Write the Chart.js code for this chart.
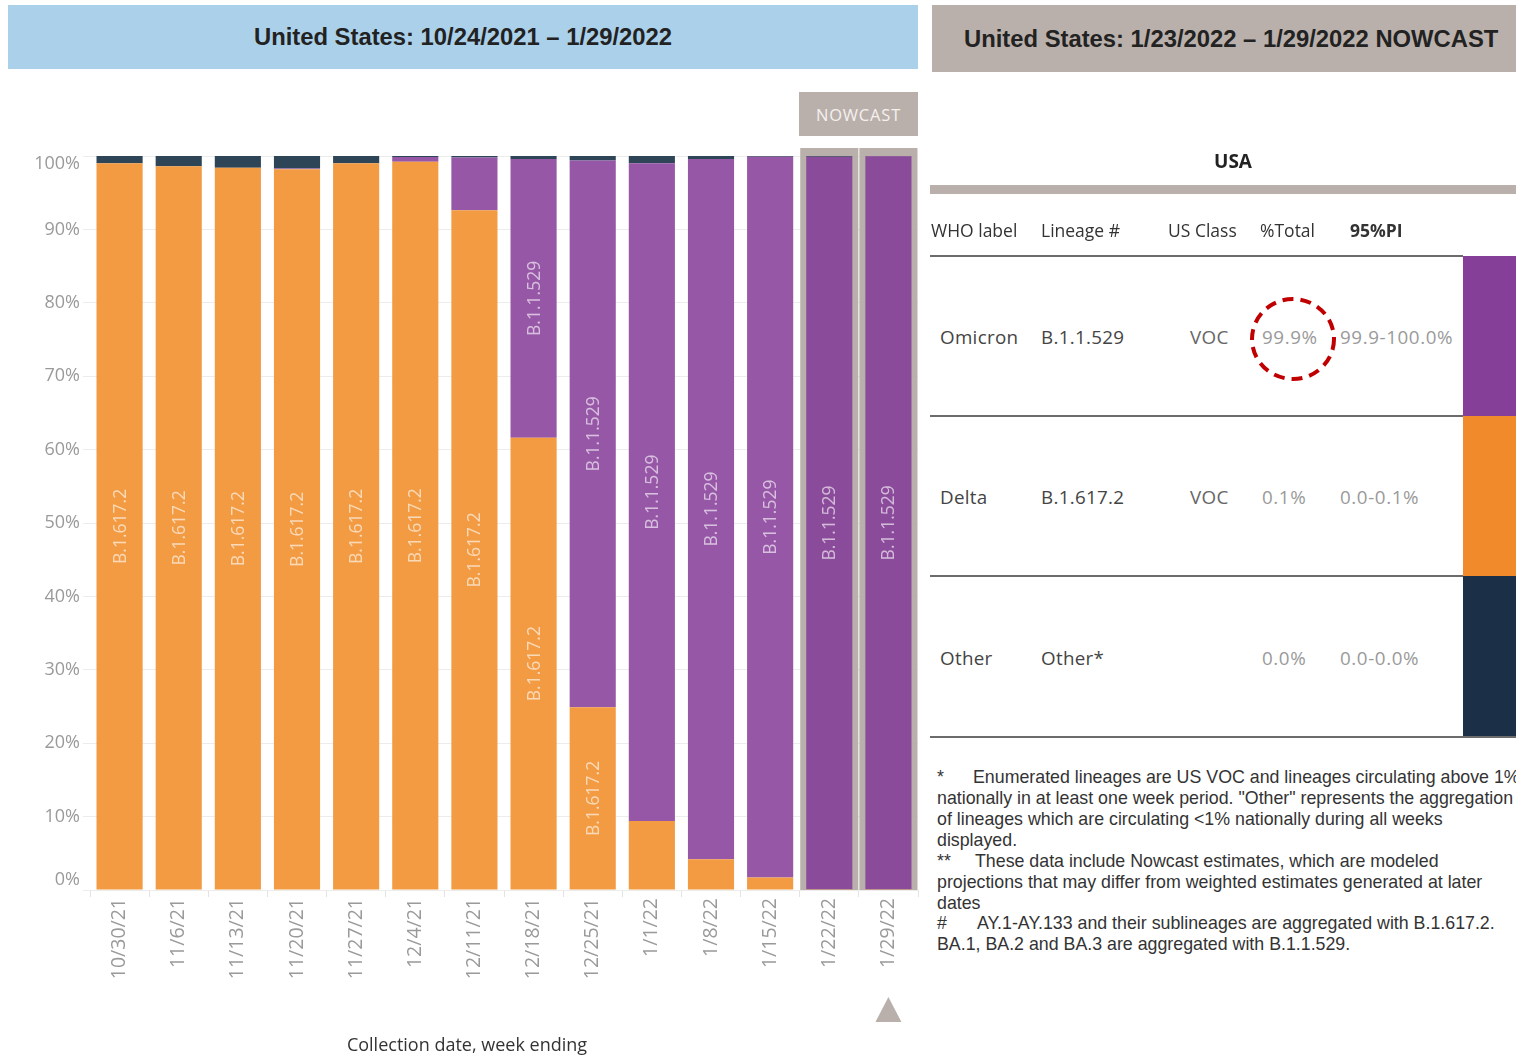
<!DOCTYPE html>
<html>
<head>
<meta charset="utf-8">
<script src="https://cdn.jsdelivr.net/npm/chart.js@4/dist/chart.umd.min.js"></script>
<style>
  html, body { margin: 0; padding: 0; background: #fff; }
  body { width: 1516px; height: 1055px; position: relative; overflow: hidden; font-family: "Open Sans", sans-serif; }
  .abs { position: absolute; }
  #chartWrap { position: absolute; left: 0; top: 0; width: 935px; height: 1055px; }
  .hdr { position: absolute; font-family: "Liberation Sans", Arial, sans-serif; font-weight: bold; font-size: 23.8px; color: #222; display: flex; align-items: center; }
  .tbl { position: absolute; font-family: "Open Sans", sans-serif; font-size: 17.5px; color: #444; white-space: nowrap; line-height: 24px; }
  .row { font-size: 18.8px; letter-spacing: 0.3px; }
  .val { color: #9a9a9a; letter-spacing: 0.6px; }
  .hline { position: absolute; height: 2px; background: #6b6b6b; }
  .fn { position: absolute; font-family: "Liberation Sans", Arial, sans-serif; font-size: 17.8px; color: #333; white-space: pre; line-height: 21px; }
</style>
</head>
<body>
<div id="chartWrap"><canvas id="c" width="935" height="1055"></canvas></div>

<div class="hdr" style="left:8px;top:5px;width:910px;height:64px;background:#abd0ea;justify-content:center;">United States: 10/24/2021 – 1/29/2022</div>
<div class="hdr" style="left:932px;top:5px;width:584px;height:67px;background:#bab0ab;padding-left:32px;box-sizing:border-box;">United States: 1/23/2022 – 1/29/2022 NOWCAST</div>

<div class="abs" style="left:799px;top:92px;width:119px;height:44px;background:#bab0ab;color:#f4f1ef;font-family:'Open Sans',sans-serif;font-size:16.5px;letter-spacing:0.8px;display:flex;align-items:center;justify-content:center;">NOWCAST</div>

<div class="abs" style="left:267px;top:1032px;width:400px;text-align:center;font-family:'Open Sans',sans-serif;font-size:18px;color:#333;">Collection date, week ending</div>

<div id="rightPanel"></div>

<script>
// ---------------- DATA ----------------
const categories = ['10/30/21','11/6/21','11/13/21','11/20/21','11/27/21','12/4/21','12/11/21','12/18/21','12/25/21','1/1/22','1/8/22','1/15/22','1/22/22','1/29/22'];
const deltaValues   = [99.0, 98.6, 98.4, 98.2, 99.0, 99.2, 92.6, 61.6, 24.9, 9.4, 4.2, 1.7, 0.1, 0.1];
const omicronValues = [0.0, 0.0, 0.0, 0.1, 0.0, 0.65, 7.2, 38.0, 74.5, 89.6, 95.4, 98.2, 99.8, 99.85];
const otherValues   = [1.0, 1.4, 1.6, 1.7, 1.0, 0.15, 0.2, 0.4, 0.6, 1.0, 0.4, 0.1, 0.1, 0.05];
const seriesNames   = ['B.1.617.2', 'B.1.1.529', 'Other'];
const nowcastCount  = 2;
const yTicks        = [0, 10, 20, 30, 40, 50, 60, 70, 80, 90, 100];

const tableHeader = ['WHO label', 'Lineage #', 'US Class', '%Total', '95%PI'];
const whoLabels   = ['Omicron', 'Delta', 'Other'];
const lineages    = ['B.1.1.529', 'B.1.617.2', 'Other*'];
const usClasses   = ['VOC', 'VOC', ''];
const pctTotal    = ['99.9%', '0.1%', '0.0%'];
const predInt     = ['99.9-100.0%', '0.0-0.1%', '0.0-0.0%'];

// ---------------- STYLES ----------------
const ORANGE = '#f29b43';
const PURPLE = '#9657a7';
const PURPLE_NOW = '#8b4b9b';
const NAVY = '#2e4558';
const FRAME = '#bab0ab';

const n = categories.length;
const isNow = i => i >= n - nowcastCount;

const framePlugin = {
  id: 'nowFrames',
  beforeDatasetsDraw(chart) {
    const ctx = chart.ctx, area = chart.chartArea;
    const meta = chart.getDatasetMeta(0);
    ctx.save();
    ctx.fillStyle = FRAME;
    meta.data.forEach((bar, i) => {
      if (!isNow(i)) return;
      const half = bar.width / 2 + 6;
      ctx.fillRect(bar.x - half, area.top - 8, half * 2, area.bottom - area.top + 8);
    });
    ctx.restore();
  },
  afterDatasetsDraw(chart) {
    const ctx = chart.ctx, area = chart.chartArea;
    ctx.save();
    ctx.font = '17.5px "Open Sans", sans-serif';
    ctx.fillStyle = 'rgba(255,255,255,0.62)';
    ctx.textAlign = 'center';
    ctx.textBaseline = 'middle';
    [0, 1].forEach(di => {
      const meta = chart.getDatasetMeta(di);
      const vals = chart.data.datasets[di].data;
      meta.data.forEach((bar, i) => {
        if (vals[i] < 15) return;
        const cy = (bar.y + bar.base) / 2;
        ctx.save();
        ctx.translate(bar.x + 1, cy);
        ctx.rotate(-Math.PI / 2);
        ctx.fillText(seriesNames[di], 0, 0);
        ctx.restore();
      });
    });
    // y tick labels, end labels kept inside the plot like the original
    const ys = chart.scales.y;
    ctx.font = '18px "Open Sans", sans-serif';
    ctx.fillStyle = '#9a9a9a';
    ctx.textAlign = 'right';
    yTicks.forEach(v => {
      let py = ys.getPixelForValue(v);
      py = Math.min(Math.max(py, area.top + 8), area.bottom - 10);
      ctx.fillText(v + '%', area.left - 10, py);
    });
    // triangle under last (nowcast) bar
    const last = chart.getDatasetMeta(0).data[n - 1];
    ctx.fillStyle = FRAME;
    ctx.beginPath();
    ctx.moveTo(last.x, 997);
    ctx.lineTo(last.x + 13, 1022);
    ctx.lineTo(last.x - 13, 1022);
    ctx.closePath();
    ctx.fill();
    ctx.restore();
  }
};

new Chart(document.getElementById('c'), {
  type: 'bar',
  data: {
    labels: categories,
    datasets: [
      { label: seriesNames[0], data: deltaValues, backgroundColor: ORANGE },
      { label: seriesNames[1], data: omicronValues, backgroundColor: categories.map((_, i) => isNow(i) ? PURPLE_NOW : PURPLE) },
      { label: seriesNames[2], data: otherValues, backgroundColor: NAVY }
    ]
  },
  options: {
    responsive: false,
    animation: false,
    devicePixelRatio: 1,
    layout: { padding: { top: 156, right: 17, bottom: 0, left: 0 } },
    datasets: { bar: { categoryPercentage: 1.0, barPercentage: 0.78, borderWidth: 0 } },
    plugins: { legend: { display: false }, tooltip: { enabled: false }, title: { display: false } },
    scales: {
      x: {
        stacked: true,
        border: { display: false },
        grid: { display: true, drawOnChartArea: false, offset: true, tickLength: 7, color: '#e3e3e3' },
        ticks: { autoSkip: false, minRotation: 90, maxRotation: 90, padding: 1, color: '#9a9a9a', font: { family: 'Open Sans', size: 19.5 } },
        afterFit(scale) { scale.height = 165; }
      },
      y: {
        stacked: true,
        min: 0, max: 100,
        border: { display: false },
        afterBuildTicks(scale) { scale.ticks = yTicks.map(v => ({ value: v })); },
        grid: { color: '#ececec', tickLength: 7, drawTicks: true },
        ticks: { padding: 3, color: 'rgba(0,0,0,0)', font: { family: 'Open Sans', size: 18 }, callback: v => v + '%' },
        afterFit(scale) { scale.width = 90; }
      }
    }
  },
  plugins: [framePlugin]
});

// ---------------- RIGHT TABLE ----------------
const rp = document.getElementById('rightPanel');
function add(html) { rp.insertAdjacentHTML('beforeend', html); }
add('<div class="abs" style="left:930px;top:148px;width:606px;text-align:center;font-family:\'Open Sans\',sans-serif;font-weight:bold;font-size:19px;color:#222;">USA</div>');
add('<div class="abs" style="left:930px;top:185px;width:586px;height:9px;background:' + FRAME + ';"></div>');
const hx = [931, 1041, 1168, 1260, 1350];
tableHeader.forEach((t, i) => {
  add('<div class="tbl" style="left:' + hx[i] + 'px;top:218px;color:#333;' + (i === 4 ? 'font-weight:bold;' : '') + '">' + t + '</div>');
});
add('<div class="hline" style="left:930px;top:255px;width:533px;"></div>');
const rowY = [337, 497, 658];
const swatch = ['#863f98', '#f08a2a', '#1b2f47'];
const swTop = [256, 416, 576];
whoLabels.forEach((w, r) => {
  const t = rowY[r] - 12;
  add('<div class="tbl row" style="left:940px;top:' + t + 'px;">' + w + '</div>');
  add('<div class="tbl row" style="left:1041px;top:' + t + 'px;">' + lineages[r] + '</div>');
  add('<div class="tbl row" style="left:1190px;top:' + t + 'px;color:#666;">' + usClasses[r] + '</div>');
  add('<div class="tbl row val" style="left:1262px;top:' + t + 'px;">' + pctTotal[r] + '</div>');
  add('<div class="tbl row val" style="left:1340px;top:' + t + 'px;">' + predInt[r] + '</div>');
  add('<div class="abs" style="left:1463px;top:' + swTop[r] + 'px;width:53px;height:' + (r === 2 ? 161 : 160) + 'px;background:' + swatch[r] + ';"></div>');
});
add('<div class="hline" style="left:930px;top:415px;width:533px;"></div>');
add('<div class="hline" style="left:930px;top:575px;width:533px;"></div>');
add('<div class="hline" style="left:930px;top:736px;width:586px;"></div>');
add('<svg class="abs" style="left:1248px;top:295px;" width="92" height="90"><ellipse cx="45" cy="44" rx="41" ry="40" fill="none" stroke="#c00000" stroke-width="4" stroke-dasharray="11 7"/></svg>');

const fnLines = [
  [937, 767, '*'], [973, 767, 'Enumerated lineages are US VOC and lineages circulating above 1%'],
  [937, 788, 'nationally in at least one week period. "Other" represents the aggregation'],
  [937, 809, 'of lineages which are circulating <1% nationally during all weeks'],
  [937, 830, 'displayed.'],
  [937, 851, '**'], [975, 851, 'These data include Nowcast estimates, which are modeled'],
  [937, 872, 'projections that may differ from weighted estimates generated at later'],
  [937, 893, 'dates'],
  [937, 913, '#'], [977, 913, 'AY.1-AY.133 and their sublineages are aggregated with B.1.617.2.'],
  [937, 934, 'BA.1, BA.2 and BA.3 are aggregated with B.1.1.529.']
];
fnLines.forEach(([x, y, t]) => {
  const d = document.createElement('div');
  d.className = 'fn';
  d.style.left = x + 'px';
  d.style.top = y + 'px';
  d.textContent = t;
  rp.appendChild(d);
});
</script>
</body>
</html>
